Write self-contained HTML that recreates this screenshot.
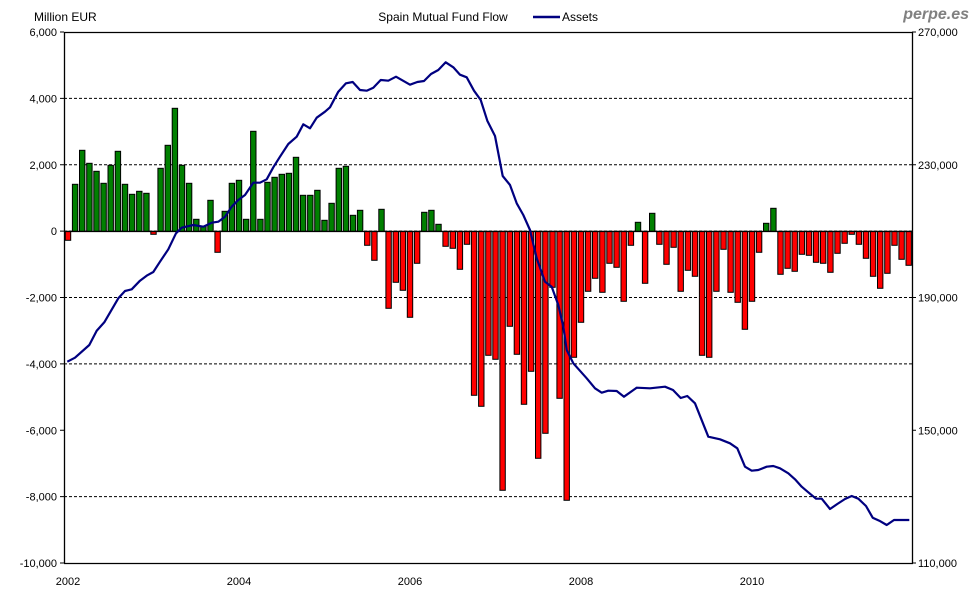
<!DOCTYPE html>
<html><head><meta charset="utf-8"><style>
html,body{margin:0;padding:0;background:#fff;}
svg{display:block;font-family:"Liberation Sans",Arial,sans-serif;}
</style></head><body>
<svg id="c" width="980" height="600" viewBox="0 0 980 600" xmlns="http://www.w3.org/2000/svg">
<rect width="980" height="600" fill="#fff"/>
<g id="grid" stroke="#000" stroke-width="1" stroke-dasharray="3,2"></g>
<g id="bars" stroke="#000" stroke-width="1"></g>
<line x1="64" y1="231.5" x2="912" y2="231.5" stroke="#000" stroke-width="1.3"/>
<polyline id="ln" fill="none" stroke="#000080" stroke-width="2.2" stroke-linejoin="round"/>
<g stroke="#000" stroke-width="1.3" fill="none">
<line x1="64.5" y1="32" x2="64.5" y2="563.5"/>
<line x1="912.5" y1="32" x2="912.5" y2="563.5"/>
<line x1="64" y1="32.5" x2="913" y2="32.5"/>
<line x1="64" y1="563.5" x2="913" y2="563.5"/>
</g>
<g id="ticks" stroke="#000" stroke-width="1"></g>
<g id="lbl" font-size="11" fill="#000"></g>
<text x="34" y="21" font-size="12">Million EUR</text>
<text x="443" y="21" font-size="12" text-anchor="middle">Spain Mutual Fund Flow</text>
<line x1="533" y1="17" x2="560" y2="17" stroke="#000080" stroke-width="2.5"/>
<text x="562" y="21" font-size="12">Assets</text>
<text x="969" y="19" font-size="16" font-weight="bold" font-style="italic" fill="#808080" text-anchor="end">perpe.es</text>
</svg>
<script>
var ns="http://www.w3.org/2000/svg";
function el(p,t,a,txt){var e=document.createElementNS(ns,t);for(var k in a)e.setAttribute(k,a[k]);if(txt)e.textContent=txt;document.getElementById(p).appendChild(e);}
var z=231.3;
for(var i=0;i<=8;i++){var y=32+i*66.375; if(i!=0&&i!=8&&i!=6) el("grid","line",{x1:64,y1:y.toFixed(1),x2:912,y2:y.toFixed(1)});
 el("ticks","line",{x1:60,y1:y,x2:64,y2:y});
 var v=6000-2000*i; el("lbl","text",{x:57,y:y+4,"text-anchor":"end"},(v<0?"-":"")+Math.abs(v).toLocaleString("en-US"));}
for(var i=0;i<=4;i++){var y=32+i*132.75; el("ticks","line",{x1:912,y1:y,x2:916,y2:y});
 el("lbl","text",{x:918,y:y+4},(270000-40000*i).toLocaleString("en-US"));}
for(var i=0;i<5;i++){el("lbl","text",{x:68+7.125*24*i,y:585,"text-anchor":"middle"},String(2002+2*i));}
var h=[-9,47,81,68,60,48,66,80,47,37,40,38,-3,63,86,123,66,48,12,5,31,-21,20,48,51,12,100,12,49,54,57,58,74,36,36,41,11,28,63,65,16,21,-14,-29,22,-77,-51,-59,-86,-32,19,21,7,-15,-17,-38,-13,-164,-175,-124,-128,-259,-95,-123,-173,-140,-227,-202,-56,-167,-269,-126,-91,-60,-47,-61,-32,-36,-70,-14,9,-52,18,-13,-33,-16,-60,-39,-45,-124,-126,-60,-18,-61,-71,-98,-70,-21,8,23,-43,-37,-40,-23,-24,-31,-32,-41,-22,-12,-3,-13,-27,-45,-57,-42,-14,-28,-34];
for(var i=0;i<h.length;i++){var cx=68+7.125*i,v=h[i];
 el("bars","rect",{x:(cx-2.7).toFixed(1),y:(v>0?z-v:z).toFixed(1),width:5.4,height:Math.abs(v),fill:v>0?"#008000":"#ff0000"});}
var p=[[67.3,361.7],[75,357.7],[89.3,345],[96.7,330.7],[104.3,322.3],[118.3,298.3],[125,291],[131.7,289.3],[140,280.7],[147.3,275.3],[153.3,272],[160,261.7],[168.3,249.3],[176,233.3],[181.7,227.7],[193.3,225],[203.3,226.7],[211.7,222.7],[218.3,221.7],[225,216.7],[231.7,206.7],[238.3,200],[245,195],[253.3,182.7],[260,182.7],[266.7,179.3],[273.3,167.3],[280,156.7],[288.3,144],[296.7,136.7],[303.3,124.3],[310,128.3],[316.7,117.7],[325,111.7],[330,107.3],[338.3,91.7],[346,83.3],[352.7,82],[360,90],[366.7,90.7],[373.3,87.7],[380.7,80],[388.3,80.7],[396,76.7],[410,84.7],[417.3,82],[424,81],[431,74],[438.3,70],[445.7,62.3],[453.3,67.3],[460,74.7],[466.7,77.3],[474,90.7],[480.7,100],[487.3,120.7],[495,136],[502.7,176],[510,185],[516.7,203.3],[523.3,215],[530,230],[536.7,258.3],[545,281.7],[551.7,286.7],[558.3,305],[563.3,326.7],[566.7,350],[573.3,363.3],[586.7,378.3],[595,388.3],[601.7,392.7],[608.3,390.7],[616.7,391],[624,396.7],[636.7,387.7],[650,388.3],[665,386.7],[673,390],[680.7,398],[687.3,396],[695,403.3],[708.3,436.7],[720,439.3],[730,443.3],[737.3,448.3],[745,466.7],[751.7,470.7],[758.3,470],[766.7,466.7],[773.3,466],[780,468.3],[788.3,473.3],[795,479.3],[801.7,486.7],[808.3,492.3],[816,498.7],[821.7,498.7],[830,509],[837.3,504],[845,499],[851.7,496],[858.3,498.7],[866,506],[872.7,517.7],[879.3,520.7],[886.7,525],[894,520],[909.3,520]];
document.getElementById("ln").setAttribute("points",p.map(function(a){return a.join(",")}).join(" "));
</script>
</body></html>
